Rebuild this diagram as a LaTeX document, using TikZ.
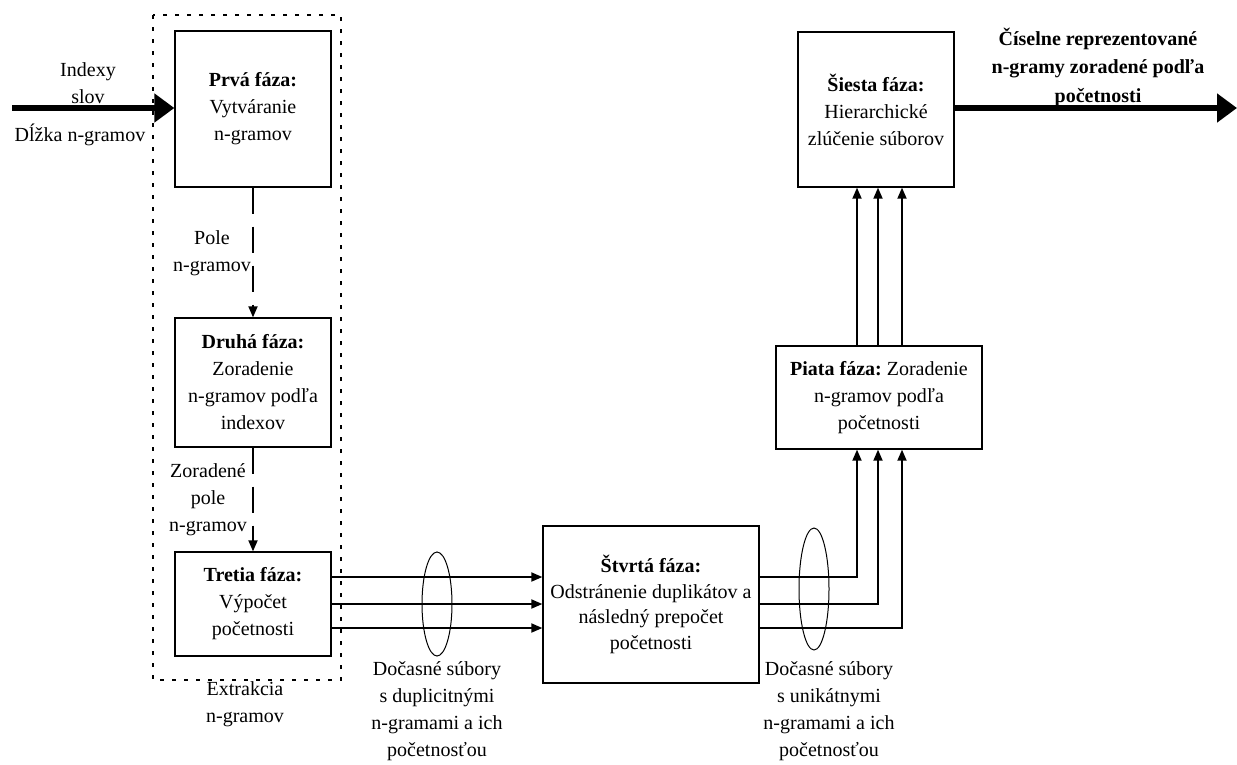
\documentclass[tikz,border=0pt]{standalone}
\usepackage{fontspec}
\setmainfont{Liberation Serif}
\usetikzlibrary{arrows.meta,calc}
\begin{document}
\begin{tikzpicture}[x=1pt,y=-1pt,
  every node/.style={font=\fontsize{20}{27}\selectfont, align=center, inner sep=0pt},
  box/.style={draw, line width=1.3pt, fill=white},
  thin/.style={line width=1.8pt, -{Triangle[length=11pt,width=9pt]}},
  thick/.style={line width=6pt, -{Triangle[length=20pt,width=28pt]}},
  dasharrow/.style={line width=1.8pt, dash pattern=on 26pt off 13pt, -{Triangle[length=11pt,width=9pt]}},
  dotbox/.style={line width=2.6pt, dash pattern=on 4pt off 8pt},
  lbl/.style={}]
\useasboundingbox (0,0) rectangle (1237,764);
\fill[white] (0,0) rectangle (1237,764);
% extraction group
\draw[dotbox] (153,15) rectangle (341,680);
% boxes
\node[box, minimum width=156pt, minimum height=156pt] (box1) at (253,109) {\textbf{Prvá fáza:}\\Vytváranie\\n-gramov};
\node[box, minimum width=156pt, minimum height=129pt] (box2) at (253,382.5) {\textbf{Druhá fáza:}\\Zoradenie\\n-gramov podľa\\indexov};
\node[box, minimum width=156pt, minimum height=104pt] (box3) at (253,604) {\textbf{Tretia fáza:}\\Výpočet\\početnosti};
\node[box, minimum width=216pt, minimum height=157pt, font=\fontsize{20}{25.5}\selectfont] (box4) at (651,604.5) {\textbf{Štvrtá fáza:}\\Odstránenie duplikátov a\\následný prepočet\\početnosti};
\node[box, minimum width=206pt, minimum height=103pt] (box5) at (879,397.5) {\textbf{Piata fáza:}~Zoradenie\\n-gramov podľa\\početnosti};
\node[box, minimum width=156pt, minimum height=155pt] (box6) at (876,109.5) {\textbf{Šiesta fáza:}\\Hierarchické\\zlúčenie súborov};
% labels
\node[lbl] (lin1) at (88,83) {Indexy\\slov};
\node[lbl] (lin2) at (80,135) {Dĺžka n-gramov};
\node[lbl] (lpole) at (212,253) {Pole\\n-gramov};
\node[lbl] (lzor) at (208,500) {Zoradené\\pole\\n-gramov};
\node[lbl] (lext) at (245,704) {Extrakcia\\n-gramov};
\node[lbl] (ldoc1) at (437,711) {Dočasné súbory\\s duplicitnými\\n-gramami a ich\\početnosťou};
\node[lbl] (ldoc2) at (829,711) {Dočasné súbory\\s unikátnymi\\n-gramami a ich\\početnosťou};
\node[lbl, font=\bfseries\fontsize{20}{28.5}\selectfont] (lout) at (1098,67) {Číselne reprezentované\\n-gramy zoradené podľa\\početnosti};
% input / output
\coordinate (in) at (12,108);
\coordinate (out) at (1237,108);
\draw[thick] (in) -- (box1.west |- in);
\draw[thick] (box6.east |- out) -- (out);
% dashed arrows
\draw[dasharrow] (box1.south) -- (box2.north);
\draw[dasharrow] (box2.south) -- (box3.north);
% box3 -> box4
\foreach \y in {577,604,628} {
  \draw[thin] (box3.east |- 0,\y) -- (box4.west |- 0,\y);
}
% box4 -> box5
\foreach \y/\x in {577/857,604/878,628/902} {
  \draw[thin] (box4.east |- 0,\y) -| (box5.south -| \x,0);
}
% box5 -> box6
\foreach \x in {857,878,902} {
  \draw[thin] (box5.north -| \x,0) -- (box6.south -| \x,0);
}
% ellipses
\draw[line width=1pt] (437,604) ellipse [x radius=15pt, y radius=52pt];
\draw[line width=1pt] (814,589) ellipse [x radius=15pt, y radius=61pt];
\end{tikzpicture}
\end{document}
